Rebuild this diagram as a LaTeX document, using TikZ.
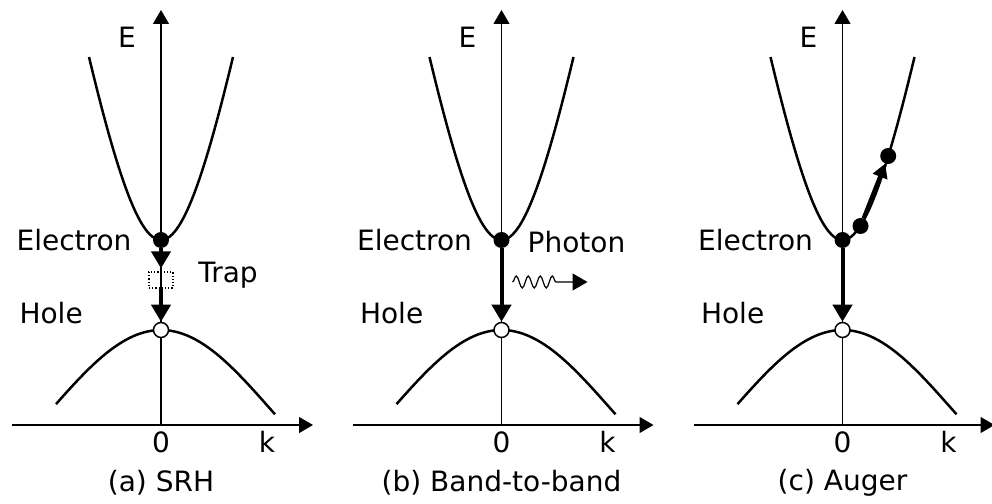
\documentclass[tikz,border=0pt]{standalone}
\usepackage{fontspec}
\setmainfont{DejaVu Sans}
\usetikzlibrary{arrows.meta,positioning,decorations.pathmorphing}

\begin{document}
\begin{tikzpicture}[
    x=1pt, y=1pt,
    font=\fontsize{28}{32}\selectfont,
    axisline/.style={line width=1.2pt, -{Triangle[length=14pt, width=16pt]}},
    bandline/.style={line width=2.5pt},
    eldot/.style={circle, fill=black, inner sep=0pt, minimum size=16pt},
    holedot/.style={circle, draw=black, line width=1.5pt, fill=white, inner sep=0pt, minimum size=15pt},
    jumparrow/.style={line width=4pt, -{Triangle[length=17pt, width=19pt]}},
    augerarrow/.style={line width=4pt, -{Triangle[length=14pt, width=15pt]}},
    trapbox/.style={draw, dotted, line width=1.2pt, minimum width=24pt, minimum height=16pt, inner sep=0pt},
    photon/.style={line width=1.2pt, decorate, decoration={snake, amplitude=6pt, segment length=12pt, post length=30pt}, -{Triangle[length=15pt, width=17pt]}}
]
\useasboundingbox (0,0) rectangle (992,503);

\foreach \p/\sx/\cap in {a/161/(a) SRH, b/501.5/(b) Band-to-band, c/842.5/(c) Auger} {
  \begin{scope}[xshift=\sx]
    \coordinate (o\p) at (0,78);
    \coordinate (ytop\p) at (0,493);
    \coordinate (xl\p) at (-149,78);
    \coordinate (xr\p) at (152,78);
    \draw[axisline] (o\p) -- (ytop\p);
    \draw[axisline] (xl\p) -- (xr\p);
    \draw[bandline] plot[domain=-72:72, samples=60] (\x, {263+325.6*(sqrt(1+(\x/60)^2)-1)});
    \draw[bandline] plot[domain=-105:114, samples=60] (\x, {173-78*(1-cos(0.83*\x))});
    \node[eldot] (e\p) at (0,263) {};
    \node[holedot] (h\p) at (0,173) {};
    \node (lE\p) at (-34,466) {E};
    \node (lel\p) at (-87,263) {Electron};
    \node[anchor=west] (lh\p) at (-145,190) {Hole};
    \node (l0\p) at (0,61) {0};
    \node (lk\p) at (106,61) {k};
    \node (cap\p) at (0,20) {\cap};
  \end{scope}
}

\begin{scope}[xshift=161]
  \node[trapbox] (ta) at (0,223) {};
  \node (lta) at (67,228) {Trap};
\end{scope}
\draw[jumparrow, shorten >=3pt] (ea) -- (ta);
\draw[jumparrow] (ta) -- (ha);

\begin{scope}[xshift=501.5]
  \coordinate (pb0) at (11,221);
  \coordinate (pb1) at (86,221);
  \node (lpb) at (75,261) {Photon};
\end{scope}
\draw[jumparrow] (eb) -- (hb);
\draw[photon] (pb0) -- (pb1);

\begin{scope}[xshift=842.5]
  \node[eldot] (c1) at (18,277) {};
  \node[eldot] (c2) at (45.7,347) {};
\end{scope}
\draw[jumparrow] (ec) -- (hc);
\draw[augerarrow] (c1) -- (c2);
\end{tikzpicture}
\end{document}
